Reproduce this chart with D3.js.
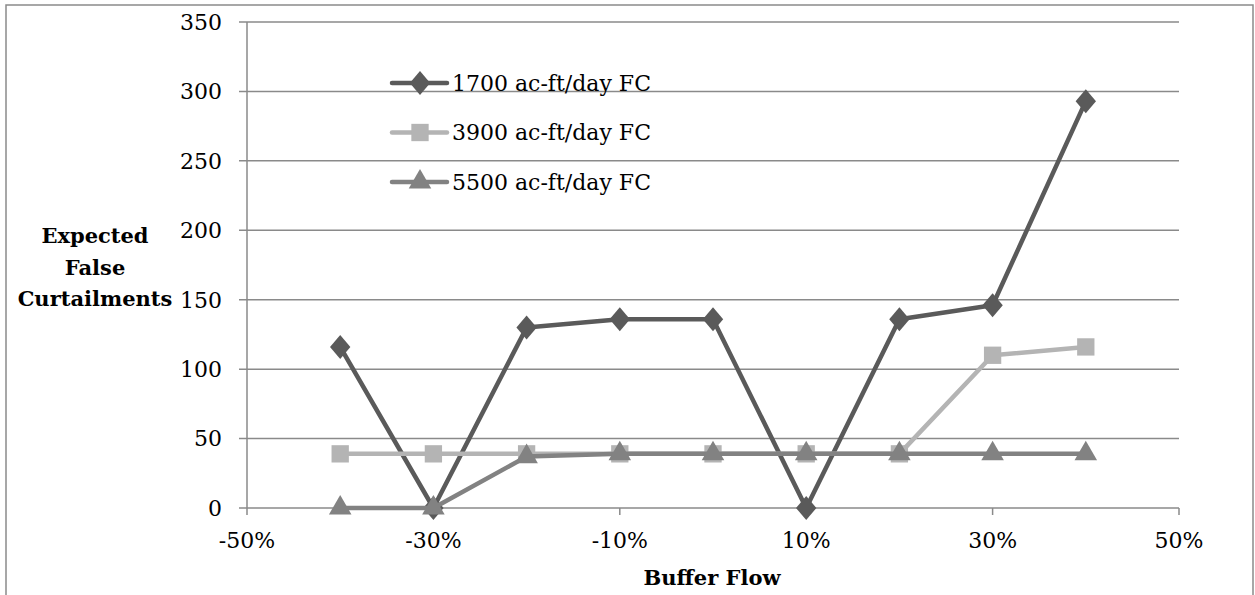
<!DOCTYPE html>
<html>
<head>
<meta charset="utf-8">
<script src="https://cdn.jsdelivr.net/npm/d3@7"></script>
<style>
  body { margin: 0; background: #fff; }
  text { font-family: "DejaVu Serif", serif; fill: #000; }
</style>
</head>
<body>
<svg width="1255" height="595"></svg>
<script>
// data
var bufferFlow = [-0.4, -0.3, -0.2, -0.1, 0, 0.1, 0.2, 0.3, 0.4];
var fc1700 = [116, 0, 130, 136, 136, 0, 136, 146, 293];
var fc3900 = [39, 39, 39, 39, 39, 39, 39, 110, 116];
var fc5500 = [0, 0, 37, 39, 39, 39, 39, 39, 39];
var seriesNames = ["1700 ac-ft/day FC", "3900 ac-ft/day FC", "5500 ac-ft/day FC"];
var xTicks = [-0.5, -0.3, -0.1, 0.1, 0.3, 0.5];
var xTickLabels = ["-50%", "-30%", "-10%", "10%", "30%", "50%"];
var yTicks = [0, 50, 100, 150, 200, 250, 300, 350];

var svg = d3.select("svg"),
    margin = {top: 22, right: 76, bottom: 87, left: 247},
    width = +svg.attr("width") - margin.left - margin.right,
    height = +svg.attr("height") - margin.top - margin.bottom;

// outer chart border
svg.append("rect")
    .attr("x", 6).attr("y", 5)
    .attr("width", 1247).attr("height", 600)
    .attr("fill", "none")
    .attr("stroke", "#8a8a8a")
    .attr("stroke-width", 1.5);

var x = d3.scaleLinear().domain([-0.5, 0.5]).range([0, 932]),
    y = d3.scaleLinear().domain([0, 350]).range([height, 0]);

var g = svg.append("g")
    .attr("transform", "translate(" + margin.left + "," + margin.top + ")");

// horizontal gridlines
g.selectAll(".grid")
  .data(yTicks)
  .enter().append("line")
    .attr("x1", -8).attr("x2", width)
    .attr("y1", function(d) { return y(d); })
    .attr("y2", function(d) { return y(d); })
    .attr("stroke", "#8a8a8a")
    .attr("stroke-width", 1.5);

// y axis line + labels
g.append("line")
    .attr("x1", 0).attr("x2", 0).attr("y1", 0).attr("y2", height)
    .attr("stroke", "#8a8a8a").attr("stroke-width", 1.5);

g.selectAll(".ylab")
  .data(yTicks)
  .enter().append("text")
    .attr("x", -25)
    .attr("y", function(d) { return y(d); })
    .attr("dy", "0.36em")
    .attr("text-anchor", "end")
    .style("font-size", "22px")
    .text(function(d) { return d; });

// x axis ticks + labels
g.selectAll(".xtick")
  .data(xTicks)
  .enter().append("line")
    .attr("x1", function(d) { return x(d); })
    .attr("x2", function(d) { return x(d); })
    .attr("y1", height).attr("y2", height + 7)
    .attr("stroke", "#8a8a8a").attr("stroke-width", 1.5);

g.selectAll(".xlab")
  .data(xTicks)
  .enter().append("text")
    .attr("x", function(d) { return x(d); })
    .attr("y", height + 40)
    .attr("text-anchor", "middle")
    .style("font-size", "22px")
    .text(function(d, i) { return xTickLabels[i]; });

// axis titles
svg.append("text")
    .attr("x", 712).attr("y", 585)
    .attr("text-anchor", "middle")
    .style("font-size", "21px").style("font-weight", "bold")
    .text("Buffer Flow");

var ytitle = svg.append("text")
    .attr("text-anchor", "middle")
    .style("font-size", "21px").style("font-weight", "bold");
["Expected", "False", "Curtailments"].forEach(function(t, i) {
  ytitle.append("tspan").attr("x", 95).attr("y", 243 + i * 31.5).text(t);
});

var colours = ["#5a5a5a", "#b4b4b4", "#828282"];
var allSeries = [fc1700, fc3900, fc5500];
var shapes = [d3.symbolDiamond, d3.symbolSquare, d3.symbolTriangle];
var sizes = [230, 300, 220];

var line = d3.line()
    .x(function(d, i) { return x(bufferFlow[i]); })
    .y(function(d) { return y(d); });

allSeries.forEach(function(vals, s) {
  g.append("path")
      .datum(vals)
      .attr("fill", "none")
      .attr("stroke", colours[s])
      .attr("stroke-width", 4.5)
      .attr("stroke-linejoin", "round")
      .attr("d", line);

  g.selectAll(".pt" + s)
    .data(vals)
    .enter().append("path")
      .attr("transform", function(d, i) {
        return "translate(" + x(bufferFlow[i]) + "," + y(d) + ")" + (s == 0 ? " scale(1.25,0.85)" : "");
      })
      .attr("d", d3.symbol().type(shapes[s]).size(sizes[s]))
      .attr("fill", colours[s]);
});

// legend
var legend = svg.append("g");
seriesNames.forEach(function(name, s) {
  var ly = 83 + s * 49.5;
  legend.append("line")
      .attr("x1", 392).attr("x2", 447).attr("y1", ly).attr("y2", ly)
      .attr("stroke", colours[s]).attr("stroke-width", 4.5)
      .attr("stroke-linecap", "round");
  legend.append("path")
      .attr("transform", "translate(420," + ly + ")" + (s == 0 ? " scale(1.25,0.85)" : ""))
      .attr("d", d3.symbol().type(shapes[s]).size(sizes[s]))
      .attr("fill", colours[s]);
  legend.append("text")
      .attr("x", 452).attr("y", ly).attr("dy", "0.36em")
      .style("font-size", "22px")
      .text(name);
});
</script>
</body>
</html>
